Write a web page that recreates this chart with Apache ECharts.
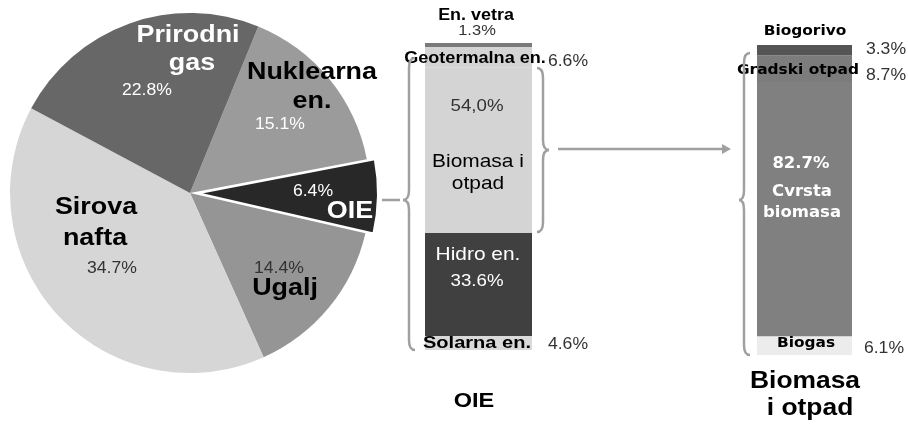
<!DOCTYPE html>
<html>
<head>
<meta charset="utf-8">
<script src="https://cdn.jsdelivr.net/npm/echarts@6.0.0/dist/echarts.min.js"></script>
<style>
  html, body { margin: 0; padding: 0; background: #fff; }
  #chart { width: 908px; height: 425px; }
</style>
</head>
<body>
<div id="chart"></div>
<script>
// pie: clockwise from the top edge of "Nuklearna en."
const pieNames = ['Nuklearna en.', 'OIE', 'Ugalj', 'Sirova nafta', 'Prirodni gas'];
const pieShares = [15.8, 6.6, 14.7, 39.5, 23.4]; // slice sizes as drawn
const pieLabels = ['15.1%', '6.4%', '14.4%', '34.7%', '22.8%']; // printed values
const pieColors = ['#9b9b9b', '#282828', '#959595', '#d6d6d6', '#676767'];

// OIE column, bottom to top
const oieNames = ['Solarna en.', 'Hidro en.', 'Biomasa i otpad', 'Geotermalna en.', 'En. vetra'];
const oieValues = [4.6, 33.6, 54.0, 6.6, 1.3];
const oieColors = ['#dadada', '#404040', '#d4d4d4', '#d4d4d4', '#7a7a7a'];

// Biomasa i otpad column, bottom to top
const bioNames = ['Biogas', 'Cvrsta biomasa', 'Gradski otpad', 'Biogorivo'];
const bioValues = [6.1, 82.7, 8.7, 3.3];
const bioColors = ['#ececec', '#808080', '#7c7c7c', '#555555'];

const sum = (a) => a.reduce((s, v) => s + v, 0);

const chart = echarts.init(document.getElementById('chart'));

const txt = (x, y, text, size, opts = {}) => ({
  type: 'text',
  x: x,
  y: y,
  z: 100,
  scaleX: opts.sx || 1.1,
  silent: true,
  style: {
    text: text,
    fontSize: size,
    fontWeight: opts.bold ? 'bold' : 'normal',
    fontFamily: opts.family || 'Liberation Sans, Arial, sans-serif',
    fill: opts.color || '#000',
    align: 'center',
    verticalAlign: 'middle',
  },
});

const lineStyle = { stroke: '#a0a0a0', lineWidth: 2.5, fill: 'none' };

const curve = (x1, y1, cx, cy, x2, y2) => ({
  type: 'bezierCurve', z: 100, silent: true,
  shape: { x1, y1, cpx1: cx, cpy1: cy, x2, y2 },
  style: lineStyle,
});

const seg = (x1, y1, x2, y2) => ({
  type: 'line', z: 100, silent: true,
  shape: { x1, y1, x2, y2 },
  style: lineStyle,
});

const brace = (xEnd, xMid, xTip, top, mid, bottom) => [
  curve(xEnd, top, xMid, top, xMid, top + 10),
  seg(xMid, top + 10, xMid, mid - 10),
  curve(xMid, mid - 10, xMid, mid, xTip, mid),
  curve(xTip, mid, xMid, mid, xMid, mid + 10),
  seg(xMid, mid + 10, xMid, bottom - 10),
  curve(xMid, bottom - 10, xMid, bottom, xEnd, bottom),
];

const big = { bold: true, sx: 1.12 };
const dv = { bold: true, family: 'DejaVu Sans, sans-serif', sx: 1.1 };

const graphics = [
  // pie labels
  txt(188, 35, 'Prirodni', 24, { ...big, color: '#fff' }),
  txt(192, 63, 'gas', 24, { ...big, color: '#fff' }),
  txt(147, 91, pieLabels[4], 16, { color: '#fff' }),
  txt(312, 72, 'Nuklearna', 24, big),
  txt(312, 101, 'en.', 24, big),
  txt(280, 125, pieLabels[0], 16, { color: '#fff' }),
  txt(313, 192, pieLabels[1], 16, { color: '#fff' }),
  txt(350, 211, 'OIE', 24, { ...big, color: '#fff' }),
  txt(96, 207, 'Sirova', 24, big),
  txt(95, 238, 'nafta', 24, big),
  txt(112, 269, pieLabels[3], 16, { color: '#333' }),
  txt(279, 269, pieLabels[2], 16, { color: '#333' }),
  txt(285, 288, 'Ugalj', 24, big),

  // OIE column labels
  txt(476, 16, 'En. vetra', 16, { bold: true, sx: 1.12 }),
  txt(477, 31, oieValues[4].toFixed(1) + '%', 15, { color: '#333' }),
  txt(475, 58.5, 'Geotermalna en.', 16, { bold: true, sx: 1.13 }),
  txt(568, 62, oieValues[3].toFixed(1) + '%', 16, { color: '#333' }),
  txt(477, 106, '54,0%', 17, { color: '#333' }),
  txt(478, 162, 'Biomasa i', 19),
  txt(478, 184, 'otpad', 19),
  txt(478, 255, 'Hidro en.', 19, { color: '#fff' }),
  txt(477, 281, oieValues[1].toFixed(1) + '%', 17, { color: '#fff' }),
  txt(477, 343, 'Solarna en.', 17, { bold: true, sx: 1.18 }),
  txt(568, 345, oieValues[0].toFixed(1) + '%', 16, { color: '#333' }),
  txt(474, 401, 'OIE', 21, { bold: true, sx: 1.12 }),

  // Biomasa column labels
  txt(805, 31, 'Biogorivo', 14, dv),
  txt(886, 50, bioValues[3].toFixed(1) + '%', 16, { color: '#333' }),
  txt(798, 70, 'Gradski otpad', 14, dv),
  txt(886, 76, bioValues[2].toFixed(1) + '%', 16, { color: '#333' }),
  txt(801, 164, bioValues[1].toFixed(1) + '%', 15, { ...dv, color: '#fff' }),
  txt(802, 192, 'Cvrsta', 15, { ...dv, color: '#fff' }),
  txt(802, 213, 'biomasa', 15, { ...dv, color: '#fff' }),
  txt(806, 343, 'Biogas', 14, dv),
  txt(884, 349, bioValues[0].toFixed(1) + '%', 16, { color: '#333' }),
  txt(805, 381, 'Biomasa', 24, { bold: true, sx: 1.1 }),
  txt(810, 408, 'i otpad', 24, { bold: true, sx: 1.1 }),

  // braces and connectors
  ...brace(415, 409, 403, 58, 200, 350),
  ...brace(537, 543, 549, 68, 150, 232),
  ...brace(750, 744, 739, 53, 200, 355),
  seg(382, 200, 400, 200),
  seg(558, 149, 724, 149),
  {
    type: 'polygon', z: 100, silent: true,
    shape: { points: [[722, 144], [731, 149], [722, 154]] },
    style: { fill: '#a0a0a0' },
  },
];

const barSeries = (names, values, colors, idx) =>
  names.map((n, i) => ({
    name: n,
    type: 'bar',
    xAxisIndex: idx,
    yAxisIndex: idx,
    stack: 'col' + idx,
    barWidth: '100%',
    silent: true,
    itemStyle: { color: colors[i] },
    data: [values[i]],
  }));

chart.setOption({
  animation: false,
  grid: [
    { left: 425, top: 43, width: 107, height: 307 },
    { left: 757, top: 45, width: 95, height: 310 },
  ],
  xAxis: [
    { gridIndex: 0, type: 'category', data: ['OIE'], show: false },
    { gridIndex: 1, type: 'category', data: ['Biomasa i otpad'], show: false },
  ],
  yAxis: [
    { gridIndex: 0, type: 'value', min: 0, max: sum(oieValues), show: false },
    { gridIndex: 1, type: 'value', min: 0, max: sum(bioValues), show: false },
  ],
  series: [
    {
      type: 'pie',
      center: [190, 193],
      radius: 180,
      startAngle: 67.7,
      clockwise: true,
      selectedMode: 'single',
      selectedOffset: 8,
      silent: true,
      label: { show: false },
      labelLine: { show: false },
      emphasis: { disabled: true },
      data: pieNames.map((n, i) => ({
        name: n,
        value: pieShares[i],
        selected: n === 'OIE',
        itemStyle: n === 'OIE'
          ? { color: pieColors[i], borderColor: '#fff', borderWidth: 2 }
          : { color: pieColors[i], borderWidth: 0 },
      })),
    },
    ...barSeries(oieNames, oieValues, oieColors, 0),
    ...barSeries(bioNames, bioValues, bioColors, 1),
  ],
  graphic: graphics,
});
</script>
</body>
</html>
